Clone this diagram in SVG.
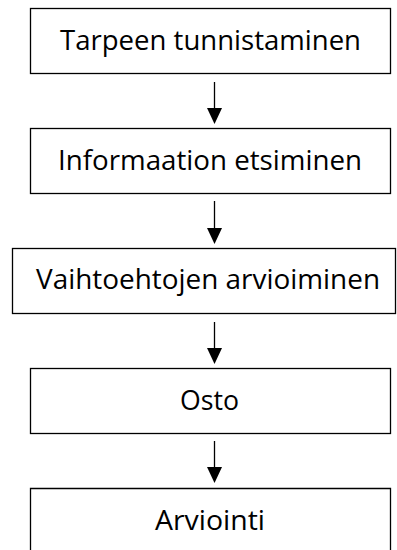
<svg xmlns="http://www.w3.org/2000/svg" width="397" height="550" viewBox="0 0 397 550">
<defs>
<style>
.box{fill:#fff;stroke:#000;stroke-width:1.3}
.lbl{font-family:"Open Sans","Noto Sans","Liberation Sans",sans-serif;font-size:28px;fill:#000}
.conn{stroke:#000;stroke-width:1.3;fill:none}
.head{fill:#000}
</style>
</defs>
<rect width="397" height="550" fill="#fff"/>
<g id="n1"><rect class="box" x="30.5" y="8.5" width="360" height="65"/><text class="lbl" x="60" y="49.5" textLength="301" lengthAdjust="spacingAndGlyphs">Tarpeen tunnistaminen</text></g>
<g id="n2"><rect class="box" x="30.5" y="128.5" width="360" height="65"/><text class="lbl" x="58" y="169.5" textLength="304" lengthAdjust="spacingAndGlyphs">Informaation etsiminen</text></g>
<g id="n3"><rect class="box" x="12.5" y="248.5" width="383" height="65"/><text class="lbl" x="36" y="289" textLength="344" lengthAdjust="spacingAndGlyphs">Vaihtoehtojen arvioiminen</text></g>
<g id="n4"><rect class="box" x="30.5" y="368.5" width="360" height="65"/><text class="lbl" x="180" y="409.5" textLength="59" lengthAdjust="spacingAndGlyphs">Osto</text></g>
<g id="n5"><path class="box" d="M30.5,560 V488.5 H390.5 V560"/><text class="lbl" x="155" y="529.5" textLength="110" lengthAdjust="spacingAndGlyphs">Arviointi</text></g>
<g id="connectors">
<path class="conn" d="M214.5,82 V110"/><path class="head" d="M207,108 L222,108 L214.5,124 Z"/>
<path class="conn" d="M214.5,201 V230"/><path class="head" d="M207,228 L222,228 L214.5,244 Z"/>
<path class="conn" d="M214.5,322 V350"/><path class="head" d="M207,348 L222,348 L214.5,364 Z"/>
<path class="conn" d="M214.5,441 V469"/><path class="head" d="M207,467 L222,467 L214.5,483 Z"/>
</g>
</svg>
